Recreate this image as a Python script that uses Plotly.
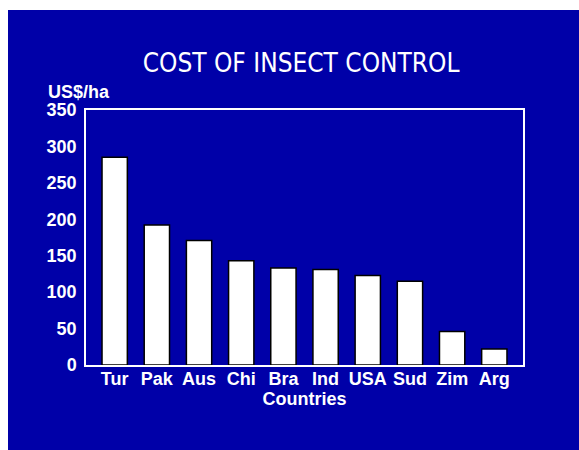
import plotly.graph_objects as go

# cost of insect control by country
countries = ["Tur", "Pak", "Aus", "Chi", "Bra", "Ind", "USA", "Sud", "Zim", "Arg"]
cost_usd_ha = [285, 192, 171, 143, 133, 131, 123, 115, 46, 22]
y_ticks = [0, 50, 100, 150, 200, 250, 300, 350]

BLUE = "#0000A8"
W, H = 579, 450
ML, MR, MT, MB = 86, 56, 110, 85
pw, ph = W - ML - MR, H - MT - MB

fig = go.Figure()
fig.add_trace(go.Bar(
    x=countries, y=cost_usd_ha,
    width=0.6,
    marker=dict(color="white", line=dict(color="black", width=1.5)),
))

# blue panel, leaving a white strip on the left and top
fig.add_shape(type="rect", xref="paper", yref="paper", layer="below",
              x0=(8 - ML) / pw, x1=(W + 5 - ML) / pw,
              y0=-(MB + 5) / ph, y1=(ph + MT - 10) / ph,
              fillcolor=BLUE, line=dict(width=0))

fig.update_layout(
    width=W, height=H,
    margin=dict(l=ML, r=MR, t=MT, b=MB),
    paper_bgcolor="white",
    plot_bgcolor=BLUE,
    showlegend=False,
    font=dict(family="Liberation Sans, Arial", size=18, color="white", weight="bold"),
    title=dict(text="COST OF INSECT CONTROL", x=0.52, xanchor="center",
               y=1 - 63 / H, yanchor="middle",
               font=dict(family="DejaVu Sans Condensed, Liberation Sans", size=26,
                         color="white", weight="normal")),
    annotations=[dict(text="US$/ha", xref="paper", yref="paper", x=(46 - ML) / pw, y=1.07,
                      xanchor="left", yanchor="middle", showarrow=False,
                      font=dict(size=18, color="white"))],
)
fig.update_xaxes(range=[-0.68, 9.68], showline=True, linecolor="white", linewidth=1.5,
                 mirror=True, showgrid=False, ticks="", tickfont=dict(size=18),
                 ticklabelstandoff=-3,
                 title=dict(text="Countries", font=dict(size=18), standoff=2))
fig.update_yaxes(range=[0, 350], tickvals=y_ticks, showline=True, linecolor="white",
                 linewidth=1.5, mirror=True, showgrid=False, zeroline=False, ticks="",
                 tickfont=dict(size=18), ticklabelstandoff=4)

# drop the default body margin so the figure fills the window
fig.write_html("out.html", config={"displayModeBar": False},
               post_script="document.body.style.margin='0';")
